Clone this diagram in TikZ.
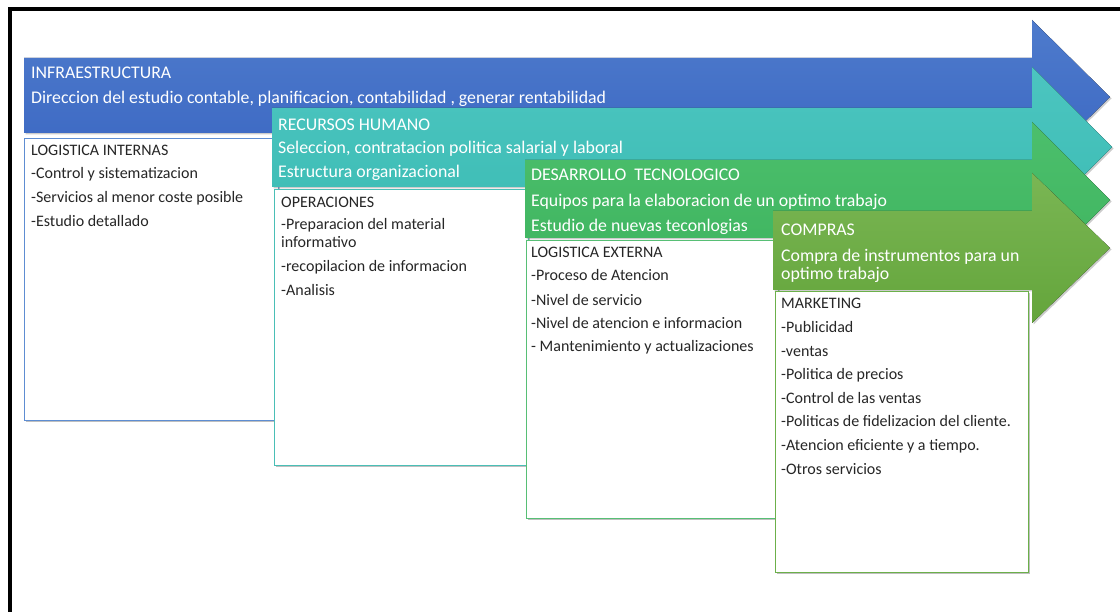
\documentclass[tikz,border=0pt]{standalone}
\usepackage{fontspec}
\setmainfont{Carlito}
\usetikzlibrary{shadows}
\definecolor{blueT}{HTML}{4E7BCC}
\definecolor{blueB}{HTML}{3A66C2}
\definecolor{tealT}{HTML}{4CC5C0}
\definecolor{tealB}{HTML}{3CBCB4}
\definecolor{grnT}{HTML}{4CBF6C}
\definecolor{grnB}{HTML}{3EB45F}
\definecolor{lgrT}{HTML}{7AB654}
\definecolor{lgrB}{HTML}{64A53B}
\definecolor{txt}{HTML}{262626}
\definecolor{bdBlue}{HTML}{5E8DD2}
\definecolor{bdTeal}{HTML}{4ABFB6}
\definecolor{bdGrn}{HTML}{57BF75}
\definecolor{bdLgr}{HTML}{6CB04A}
\tikzset{
  band/.style={drop shadow={shadow xshift=1.5pt,shadow yshift=-1.5pt,opacity=0.4}},
  panel/.style={fill=white,line width=0.9pt,drop shadow={shadow xshift=1.5pt,shadow yshift=-2pt,opacity=0.5}},
  wtxt/.style={anchor=west,text=white,font=\fontsize{17.8}{19}\selectfont,inner sep=0pt},
  btxt/.style={anchor=west,text=txt,font=\fontsize{16}{18}\selectfont,inner sep=0pt},
}
\begin{document}
\begin{tikzpicture}[x=1pt,y=-1pt]
\useasboundingbox (0,0) rectangle (1120,612);
\fill[white] (0,0) rectangle (1120,612);
% frame
\draw[line width=4pt] (9.5,612) -- (9.5,9.5) -- (1120,9.5);

% blue arrow
\fill[band,top color=blueT,bottom color=blueB] (24,58) -- (1032,58) -- (1032,20) -- (1110,97) -- (1032,174) -- (1032,133) -- (24,133) -- cycle;
\node[wtxt] (inf1) at (31,73) {INFRAESTRUCTURA};
\node[wtxt] (inf2) at (31,99) {Direccion del estudio contable, planificacion, contabilidad , generar rentabilidad};
% box 1
\draw[panel,draw=bdBlue] (24,138) rectangle (278,420);
\node[btxt] (li0) at (31,150) {LOGISTICA INTERNAS};
\node[btxt] (li1) at (31,174) {-Control y sistematizacion};
\node[btxt] (li2) at (31,198) {-Servicios al menor coste posible};
\node[btxt] (li3) at (31,221) {-Estudio detallado};

% teal arrow
\fill[band,top color=tealT,bottom color=tealB] (272,108) -- (1032,108) -- (1032,67) -- (1112,147) -- (1032,227) -- (1032,187) -- (272,187) -- cycle;
\node[wtxt] (rh1) at (278,125) {RECURSOS HUMANO};
\node[wtxt] (rh2) at (278,149) {Seleccion, contratacion politica salarial y laboral};
\node[wtxt] (rh3) at (278,173) {Estructura organizacional};
% box 2
\draw[panel,draw=bdTeal] (274,189) rectangle (528,465);
\node[btxt] (op0) at (281,202) {OPERACIONES};
\node[btxt] (op1) at (281,225) {-Preparacion del material};
\node[btxt] (op2) at (281,242) {informativo};
\node[btxt] (op3) at (281,267) {-recopilacion de informacion};
\node[btxt] (op4) at (281,290) {-Analisis};

% green arrow
\fill[band,top color=grnT,bottom color=grnB] (525,160) -- (1032,160) -- (1032,122) -- (1110,200) -- (1032,278) -- (1032,238) -- (525,238) -- cycle;
\node[wtxt] (dt1) at (531,175) {DESARROLLO\ \ TECNOLOGICO};
\node[wtxt] (dt2) at (531,202) {Equipos para la elaboracion de un optimo trabajo};
\node[wtxt] (dt3) at (531,227) {Estudio de nuevas teconlogias};
% box 3
\draw[panel,draw=bdGrn] (526,240) rectangle (778,518);
\node[btxt] (le0) at (531,252) {LOGISTICA EXTERNA};
\node[btxt] (le1) at (531,275) {-Proceso de Atencion};
\node[btxt] (le2) at (531,300) {-Nivel de servicio};
\node[btxt] (le3) at (531,323) {-Nivel de atencion e informacion};
\node[btxt] (le4) at (531,347) {- Mantenimiento y actualizaciones};

% light green arrow
\fill[band,top color=lgrT,bottom color=lgrB] (773,211) -- (1032,211) -- (1032,173) -- (1110,248) -- (1032,323) -- (1032,290) -- (773,290) -- cycle;
\node[wtxt] (co1) at (781,230) {COMPRAS};
\node[wtxt] (co2) at (781,257) {Compra de instrumentos para un};
\node[wtxt] (co3) at (781,275) {optimo trabajo};
% box 4
\draw[panel,draw=bdLgr] (775,291) rectangle (1028,572);
\node[btxt] (mk0) at (781,303) {MARKETING};
\node[btxt] (mk1) at (781,327) {-Publicidad};
\node[btxt] (mk2) at (781,352) {-ventas};
\node[btxt] (mk3) at (781,375) {-Politica de precios};
\node[btxt] (mk4) at (781,398) {-Control de las ventas};
\node[btxt] (mk5) at (781,421) {-Politicas de fidelizacion del cliente.};
\node[btxt] (mk6) at (781,446) {-Atencion eficiente y a tiempo.};
\node[btxt] (mk7) at (781,469) {-Otros servicios};
\end{tikzpicture}
\end{document}
